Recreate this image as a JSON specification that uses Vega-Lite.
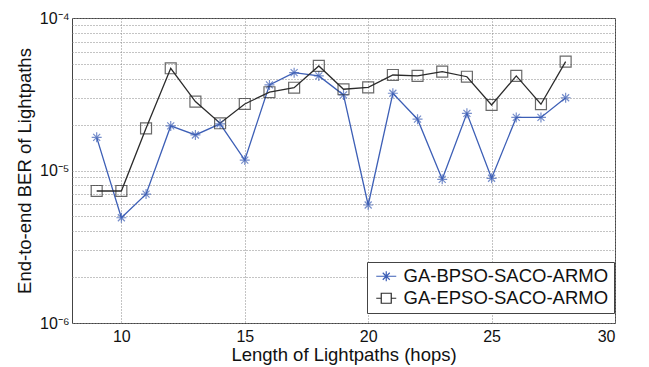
{
  "$schema": "https://vega.github.io/schema/vega-lite/v6.json",
  "width": 543,
  "height": 305,
  "autosize": {"type": "none"},
  "padding": {"left": 72, "top": 18, "right": 34, "bottom": 44},
  "background": "white",
  "config": {
    "view": {"stroke": "#444", "strokeWidth": 1},
    "font": "Liberation Sans"
  },
  "data": {
    "values": [
      {"hops": 9, "method": "GA-BPSO-SACO-ARMO", "ber": 1.65e-5},
      {"hops": 10, "method": "GA-BPSO-SACO-ARMO", "ber": 4.9e-6},
      {"hops": 11, "method": "GA-BPSO-SACO-ARMO", "ber": 7.0e-6},
      {"hops": 12, "method": "GA-BPSO-SACO-ARMO", "ber": 1.96e-5},
      {"hops": 13, "method": "GA-BPSO-SACO-ARMO", "ber": 1.71e-5},
      {"hops": 14, "method": "GA-BPSO-SACO-ARMO", "ber": 2.02e-5},
      {"hops": 15, "method": "GA-BPSO-SACO-ARMO", "ber": 1.17e-5},
      {"hops": 16, "method": "GA-BPSO-SACO-ARMO", "ber": 3.64e-5},
      {"hops": 17, "method": "GA-BPSO-SACO-ARMO", "ber": 4.38e-5},
      {"hops": 18, "method": "GA-BPSO-SACO-ARMO", "ber": 4.17e-5},
      {"hops": 19, "method": "GA-BPSO-SACO-ARMO", "ber": 3.13e-5},
      {"hops": 20, "method": "GA-BPSO-SACO-ARMO", "ber": 5.94e-6},
      {"hops": 21, "method": "GA-BPSO-SACO-ARMO", "ber": 3.21e-5},
      {"hops": 22, "method": "GA-BPSO-SACO-ARMO", "ber": 2.17e-5},
      {"hops": 23, "method": "GA-BPSO-SACO-ARMO", "ber": 8.75e-6},
      {"hops": 24, "method": "GA-BPSO-SACO-ARMO", "ber": 2.37e-5},
      {"hops": 25, "method": "GA-BPSO-SACO-ARMO", "ber": 8.89e-6},
      {"hops": 26, "method": "GA-BPSO-SACO-ARMO", "ber": 2.23e-5},
      {"hops": 27, "method": "GA-BPSO-SACO-ARMO", "ber": 2.23e-5},
      {"hops": 28, "method": "GA-BPSO-SACO-ARMO", "ber": 3.0e-5},
      {"hops": 9, "method": "GA-EPSO-SACO-ARMO", "ber": 7.34e-6},
      {"hops": 10, "method": "GA-EPSO-SACO-ARMO", "ber": 7.34e-6},
      {"hops": 11, "method": "GA-EPSO-SACO-ARMO", "ber": 1.89e-5},
      {"hops": 12, "method": "GA-EPSO-SACO-ARMO", "ber": 4.68e-5},
      {"hops": 13, "method": "GA-EPSO-SACO-ARMO", "ber": 2.83e-5},
      {"hops": 14, "method": "GA-EPSO-SACO-ARMO", "ber": 2.04e-5},
      {"hops": 15, "method": "GA-EPSO-SACO-ARMO", "ber": 2.73e-5},
      {"hops": 16, "method": "GA-EPSO-SACO-ARMO", "ber": 3.26e-5},
      {"hops": 17, "method": "GA-EPSO-SACO-ARMO", "ber": 3.49e-5},
      {"hops": 18, "method": "GA-EPSO-SACO-ARMO", "ber": 4.85e-5},
      {"hops": 19, "method": "GA-EPSO-SACO-ARMO", "ber": 3.41e-5},
      {"hops": 20, "method": "GA-EPSO-SACO-ARMO", "ber": 3.51e-5},
      {"hops": 21, "method": "GA-EPSO-SACO-ARMO", "ber": 4.23e-5},
      {"hops": 22, "method": "GA-EPSO-SACO-ARMO", "ber": 4.17e-5},
      {"hops": 23, "method": "GA-EPSO-SACO-ARMO", "ber": 4.45e-5},
      {"hops": 24, "method": "GA-EPSO-SACO-ARMO", "ber": 4.12e-5},
      {"hops": 25, "method": "GA-EPSO-SACO-ARMO", "ber": 2.69e-5},
      {"hops": 26, "method": "GA-EPSO-SACO-ARMO", "ber": 4.17e-5},
      {"hops": 27, "method": "GA-EPSO-SACO-ARMO", "ber": 2.72e-5},
      {"hops": 28, "method": "GA-EPSO-SACO-ARMO", "ber": 5.17e-5}
    ]
  },
  "encoding": {
    "x": {
      "field": "hops",
      "type": "quantitative",
      "scale": {"domain": [8, 30], "nice": false, "zero": false},
      "axis": {
        "title": "Length of Lightpaths (hops)",
        "values": [10, 15, 20, 25, 30],
        "domain": false,
        "ticks": false,
        "labelFontSize": 16,
        "labelColor": "#111",
        "labelPadding": 5,
        "titleFontSize": 18.5,
        "titleFontWeight": "normal",
        "titleColor": "#111",
        "titlePadding": 1,
        "grid": true,
        "gridColor": "#888",
        "gridDash": [1, 2],
        "gridWidth": 1
      }
    },
    "y": {
      "field": "ber",
      "type": "quantitative",
      "scale": {"type": "log", "domain": [1e-6, 1e-4], "nice": false},
      "axis": {
        "title": "End-to-end BER of Lightpaths",
        "values": [1e-6, 2e-6, 3e-6, 4e-6, 5e-6, 6e-6, 7e-6, 8e-6, 9e-6, 1e-5, 2e-5, 3e-5, 4e-5, 5e-5, 6e-5, 7e-5, 8e-5, 9e-5, 1e-4],
        "labelExpr": "datum.value == 1e-4 ? '10⁻⁴' : (datum.value == 1e-5 ? '10⁻⁵' : (datum.value == 1e-6 ? '10⁻⁶' : ''))",
        "domain": false,
        "ticks": false,
        "labelFontSize": 16,
        "labelColor": "#111",
        "labelPadding": 3,
        "titleFontSize": 18.5,
        "titleFontWeight": "normal",
        "titleColor": "#111",
        "titlePadding": 5,
        "grid": true,
        "gridColor": "#888",
        "gridDash": [1, 2],
        "gridWidth": 1
      }
    },
    "color": {
      "field": "method",
      "type": "nominal",
      "scale": {"domain": ["GA-BPSO-SACO-ARMO", "GA-EPSO-SACO-ARMO"], "range": ["#3d5fb6", "#2b2b2b"]},
      "legend": {
        "title": null,
        "orient": "none",
        "legendX": 295,
        "legendY": 244,
        "direction": "vertical",
        "fillColor": "white",
        "strokeColor": "#444",
        "padding": 5,
        "labelFont": "Liberation Sans",
        "labelFontSize": 18.5,
        "labelColor": "#111",
        "labelLimit": 0,
        "labelOffset": 8,
        "symbolSize": 100,
        "symbolOffset": 5,
        "rowPadding": 3,
        "encode": {
          "symbols": {
            "update": {
              "shape": {"signal": "datum.value == 'GA-BPSO-SACO-ARMO' ? 'M-2,0H2M0,-1V1M-0.7,-0.7L0.7,0.7M-0.7,0.7L0.7,-0.7' : 'M-2,0H-1M1,0H2M-1,-1H1V1H-1Z'"},
              "fill": {"value": "transparent"},
              "strokeWidth": {"value": 1.2},
              "size": {"value": 100}
            }
          }
        }
      }
    }
  },
  "layer": [
    {"mark": {"type": "line", "strokeWidth": 1.3}},
    {
      "transform": [{"filter": "datum.method == 'GA-BPSO-SACO-ARMO'"}],
      "mark": {"type": "point", "filled": false, "size": 100, "strokeWidth": 1.2, "shape": "M0,-1V1M-1,0H1M-0.7,-0.7L0.7,0.7M-0.7,0.7L0.7,-0.7"}
    },
    {
      "transform": [{"filter": "datum.method == 'GA-EPSO-SACO-ARMO'"}],
      "mark": {"type": "point", "filled": false, "size": 120, "strokeWidth": 1.2, "shape": "M-1,-1H1V1H-1Z"}
    }
  ]
}
